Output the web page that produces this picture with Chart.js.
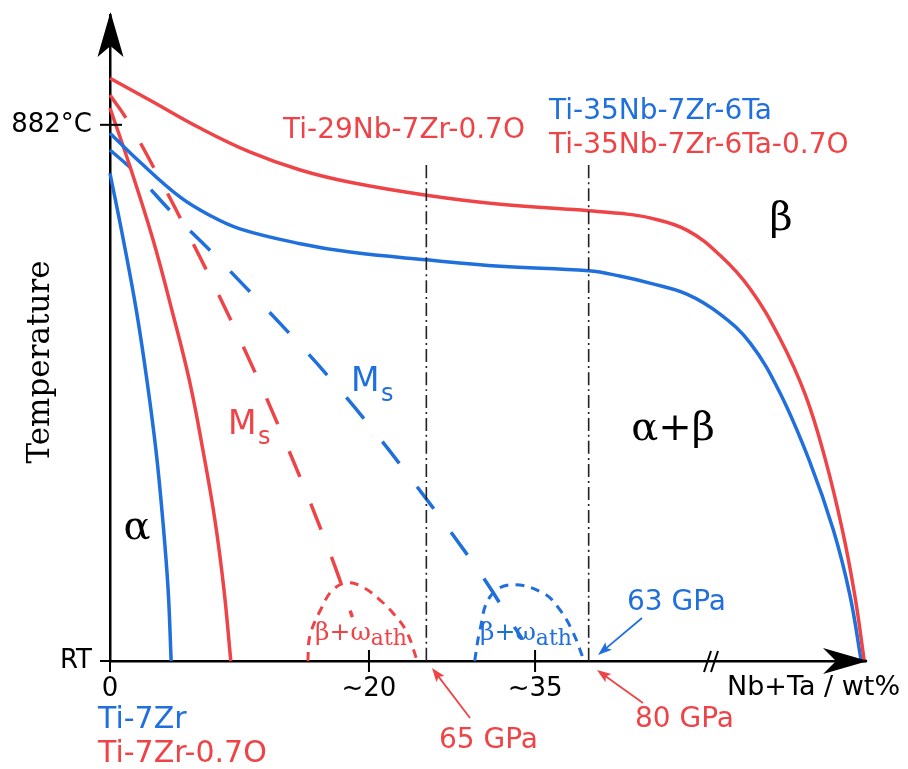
<!DOCTYPE html>
<html>
<head>
<meta charset="utf-8">
<script src="https://cdn.jsdelivr.net/npm/chart.js@4.4.1/dist/chart.umd.min.js"></script>
<style>
    html, body { margin: 0; padding: 0; background: #fff; }
    #wrap { width: 908px; height: 769px; }
</style>
</head>
<body>
<div id="wrap"><canvas id="chartFases" width="908" height="769"></canvas></div>
<script>
// unidades esquemáticas: x 0..100 = origen .. punta del eje, y 0..100 = RT .. tope del eje
const xTickValues = [0, 34.3, 56.3];
const xTickLabels = ['0', '~20', '~35'];
const yTickValues = [0, 83.0];
const yTickLabels = ['RT', '882°C'];

// transus beta (Ti-7Zr-0.7O -> Ti-35Nb-7Zr-6Ta-0.7O)
const transusOx = [[0, 90.2], [5.3, 86.8], [11.9, 82.5], [18.5, 78.8], [25.2, 76.0], [31.8, 74.1], [41.9, 72.1], [51.7, 70.7], [63.4, 69.7], [67.5, 69.3], [71.5, 68.6], [76.4, 66.7], [80.8, 62.8], [84.8, 57.6], [88.7, 50.0], [92.1, 41.2], [94.7, 31.4], [97.0, 20.3], [98.7, 9.8], [99.9, 0]];
// transus beta (Ti-7Zr -> Ti-35Nb-7Zr-6Ta)
const transus = [[0, 81.7], [4.0, 77.2], [9.3, 71.8], [13.2, 69.0], [17.2, 66.9], [25.2, 64.6], [31.8, 63.3], [41.9, 62.1], [51.7, 61.1], [63.4, 60.4], [67.5, 59.6], [71.5, 58.5], [76.4, 56.8], [80.8, 53.7], [84.8, 49.2], [88.7, 41.6], [92.7, 30.8], [95.8, 20.3], [98.0, 10.2], [99.5, 0]];
// limite alfa
const alfa = [[0, 75.5], [1.8, 65.0], [3.5, 54.2], [4.9, 43.4], [6.1, 32.5], [7.0, 21.7], [7.7, 11.0], [8.1, 0]];
const alfaOx = [[0, 85.6], [2.8, 76.0], [5.7, 65.2], [8.2, 54.3], [10.5, 43.5], [12.3, 32.7], [13.9, 21.8], [15.1, 11.0], [16.0, 0]];
// Ms
const msOx = [[0, 87.6], [2.3, 83.7], [6.2, 75.5], [9.9, 67.2], [16.8, 50.8], [23.4, 33.4], [29.4, 15.9], [32.1, 6.8]];
const ms = [[0, 79.1], [3.0, 76.0], [8.3, 69.3], [14.3, 62.3], [25.2, 48.9], [30.5, 41.9], [35.5, 34.8], [40.4, 27.4], [45.0, 20.2], [49.9, 12.1], [53.6, 5.2], [54.6, 3.4]];
// dominios beta + omega atermica
const omegaOx = [[26.2, 0], [26.5, 4.0], [28.1, 8.4], [29.5, 11.0], [31.4, 12.1], [33.4, 11.5], [35.8, 9.4], [37.5, 7.4], [39.3, 4.5], [40.7, 0]];
const omega = [[48.3, 0], [49.0, 4.8], [50.3, 9.9], [53.0, 11.8], [57.4, 10.5], [59.6, 7.9], [61.3, 4.5], [62.8, 0]];
// composiciones de referencia
const aleaciones = [41.9, 63.4];
const alturaAleaciones = 77.2;

const ROJO = '#ef4447';
const AZUL = '#1f6fdc';
const SANS = '"DejaVu Sans", Verdana, sans-serif';
const SERIF = '"DejaVu Serif", serif';

const pts = arr => arr.map(p => ({ x: p[0], y: p[1] }));

function serie(data, color, dash, width) {
    return {
        data: pts(data), borderColor: color, borderWidth: width || 3.5, borderDash: dash || [],
        pointRadius: 0, showLine: true, fill: false, tension: 0.4, clip: 12
    };
}

function flecha(ctx, tx, ty, dx, dy, L, W, N) {
    const nx = -dy, ny = dx;
    ctx.beginPath();
    ctx.moveTo(tx, ty);
    ctx.lineTo(tx - L * dx + W * nx, ty - L * dy + W * ny);
    ctx.lineTo(tx - (L - N) * dx, ty - (L - N) * dy);
    ctx.lineTo(tx - L * dx - W * nx, ty - L * dy - W * ny);
    ctx.closePath();
    ctx.fill();
}

function flechita(ctx, x1, y1, x2, y2, color) {
    const len = Math.hypot(x2 - x1, y2 - y1);
    const dx = (x2 - x1) / len, dy = (y2 - y1) / len;
    ctx.strokeStyle = color; ctx.fillStyle = color; ctx.lineWidth = 1.8;
    ctx.beginPath();
    ctx.moveTo(x1, y1);
    ctx.lineTo(x2 - dx * 8, y2 - dy * 8);
    ctx.stroke();
    flecha(ctx, x2, y2, dx, dy, 14, 5, 3);
}

function texto(ctx, t, x, y, font, color, align) {
    ctx.font = font;
    ctx.fillStyle = color;
    ctx.textAlign = align || 'left';
    ctx.textBaseline = 'middle';
    ctx.fillText(t, x, y);
}

const decoracion = {
    id: 'decoracion',
    afterDraw(chart) {
        const { ctx, chartArea: a, scales: { x, y } } = chart;
        const x0 = x.getPixelForValue(0), y0 = y.getPixelForValue(0);
        ctx.save();

        // flechas de los ejes
        ctx.fillStyle = '#000';
        ctx.strokeStyle = '#000';
        ctx.lineWidth = 2.5;
        flecha(ctx, x0 + 0.5, a.top - 3, 0, -1, 45, 13, 11);
        ctx.beginPath(); ctx.moveTo(a.right - 2, y0); ctx.lineTo(a.right + 2, y0); ctx.stroke();
        flecha(ctx, a.right + 3, y0, 1, 0, 45, 13, 13);

        // marcas de los ticks
        ctx.lineWidth = 2;
        yTickValues.forEach(v => {
            const py = y.getPixelForValue(v);
            ctx.beginPath(); ctx.moveTo(x0 - 10, py); ctx.lineTo(v === 0 ? x0 : x0 + 12, py); ctx.stroke();
        });
        xTickValues.forEach(v => {
            const px = x.getPixelForValue(v);
            ctx.beginPath(); ctx.moveTo(px, v === 0 ? y0 : y0 - 11); ctx.lineTo(px, y0 + 11); ctx.stroke();
        });

        // corte del eje
        ctx.lineWidth = 2;
        ctx.beginPath();
        ctx.moveTo(704, y0 + 11); ctx.lineTo(711, y0 - 10);
        ctx.moveTo(711, y0 + 11); ctx.lineTo(718, y0 - 10);
        ctx.stroke();

        // flechas de modulo
        flechita(ctx, 470, 718, 432, 668, ROJO);
        flechita(ctx, 643, 703, 597, 670, ROJO);
        flechita(ctx, 642, 618, 598, 655, AZUL);

        const f28 = '28px ' + SANS;
        texto(ctx, 'Ti-29Nb-7Zr-0.7O', 283, 131, f28, ROJO);
        texto(ctx, 'Ti-35Nb-7Zr-6Ta', 549, 112, f28, AZUL);
        texto(ctx, 'Ti-35Nb-7Zr-6Ta-0.7O', 549, 146, f28, ROJO);
        texto(ctx, 'Ti-7Zr', 98, 720, '30px ' + SANS, AZUL);
        texto(ctx, 'Ti-7Zr-0.7O', 98, 754, '30px ' + SANS, ROJO);
        texto(ctx, '63 GPa', 627, 603, f28, AZUL);
        texto(ctx, '80 GPa', 635, 720, f28, ROJO);
        texto(ctx, '65 GPa', 439, 741, f28, ROJO);
        texto(ctx, 'Nb+Ta / wt%', 727, 688, '27px ' + SANS, '#000');

        // fases
        const g40 = '40px ' + SERIF;
        texto(ctx, 'β', 781, 220, g40, '#000', 'center');
        texto(ctx, 'α+β', 673, 430, g40, '#000', 'center');
        texto(ctx, 'α', 137, 529, g40, '#000', 'center');

        // Ms
        texto(ctx, 'M', 228, 425, '33px ' + SANS, ROJO);
        texto(ctx, 's', 258, 438, '24px ' + SANS, ROJO);
        texto(ctx, 'M', 351, 382, '33px ' + SANS, AZUL);
        texto(ctx, 's', 381, 395, '24px ' + SANS, AZUL);

        // beta + omega_ath
        [[315, ROJO], [480, AZUL]].forEach(([px, c]) => {
            ctx.font = '25px ' + SERIF;
            const w = ctx.measureText('β+ω').width;
            texto(ctx, 'β+ω', px, 633, '25px ' + SERIF, c);
            texto(ctx, 'ath', px + w, 639, '22px ' + SERIF, c);
        });

        // titulo del eje y
        ctx.translate(41, 362);
        ctx.rotate(-Math.PI / 2);
        texto(ctx, 'Temperature', 0, 0, '31px ' + SERIF, '#000', 'center');

        ctx.restore();
    }
};

const datasets = [
    ...aleaciones.map(v => serie([[v, 0], [v, alturaAleaciones]], '#222', [13, 4, 2, 4], 1.6)),
    serie(transusOx, ROJO),
    serie(transus, AZUL),
    serie(alfa, AZUL),
    serie(alfaOx, ROJO),
    serie(msOx, ROJO, [28, 29]),
    serie(ms, AZUL, [28, 29]),
    serie(omegaOx, ROJO, [9, 7], 3),
    serie(omega, AZUL, [9, 7], 3)
];

new Chart(document.getElementById('chartFases'), {
    type: 'scatter',
    data: { datasets },
    plugins: [decoracion],
    options: {
        responsive: false,
        animation: false,
        layout: { padding: { top: 15, right: 43, left: 0, bottom: 0 } },
        plugins: { legend: { display: false }, tooltip: { enabled: false } },
        scales: {
            x: {
                type: 'linear', min: 0, max: 100,
                grid: { display: false },
                border: { display: true, color: '#000', width: 2.5 },
                afterFit: s => { s.height = 108; s.paddingLeft = 0; s.paddingRight = 0; },
                afterBuildTicks: s => { s.ticks = xTickValues.map(v => ({ value: v })); },
                ticks: {
                    autoSkip: false, maxRotation: 0, padding: 5, color: '#000',
                    font: { family: SANS, size: 26 },
                    callback: (v, i) => xTickLabels[i]
                }
            },
            y: {
                type: 'linear', min: 0, max: 100,
                grid: { display: false },
                border: { display: true, color: '#000', width: 2.5 },
                afterFit: s => { s.width = 110; s.paddingTop = 0; s.paddingBottom = 0; },
                afterBuildTicks: s => { s.ticks = yTickValues.map(v => ({ value: v })); },
                ticks: {
                    autoSkip: false, padding: 10, color: '#000',
                    font: { family: SANS, size: 26 },
                    callback: (v, i) => yTickLabels[i]
                }
            }
        }
    }
});
</script>
</body>
</html>
